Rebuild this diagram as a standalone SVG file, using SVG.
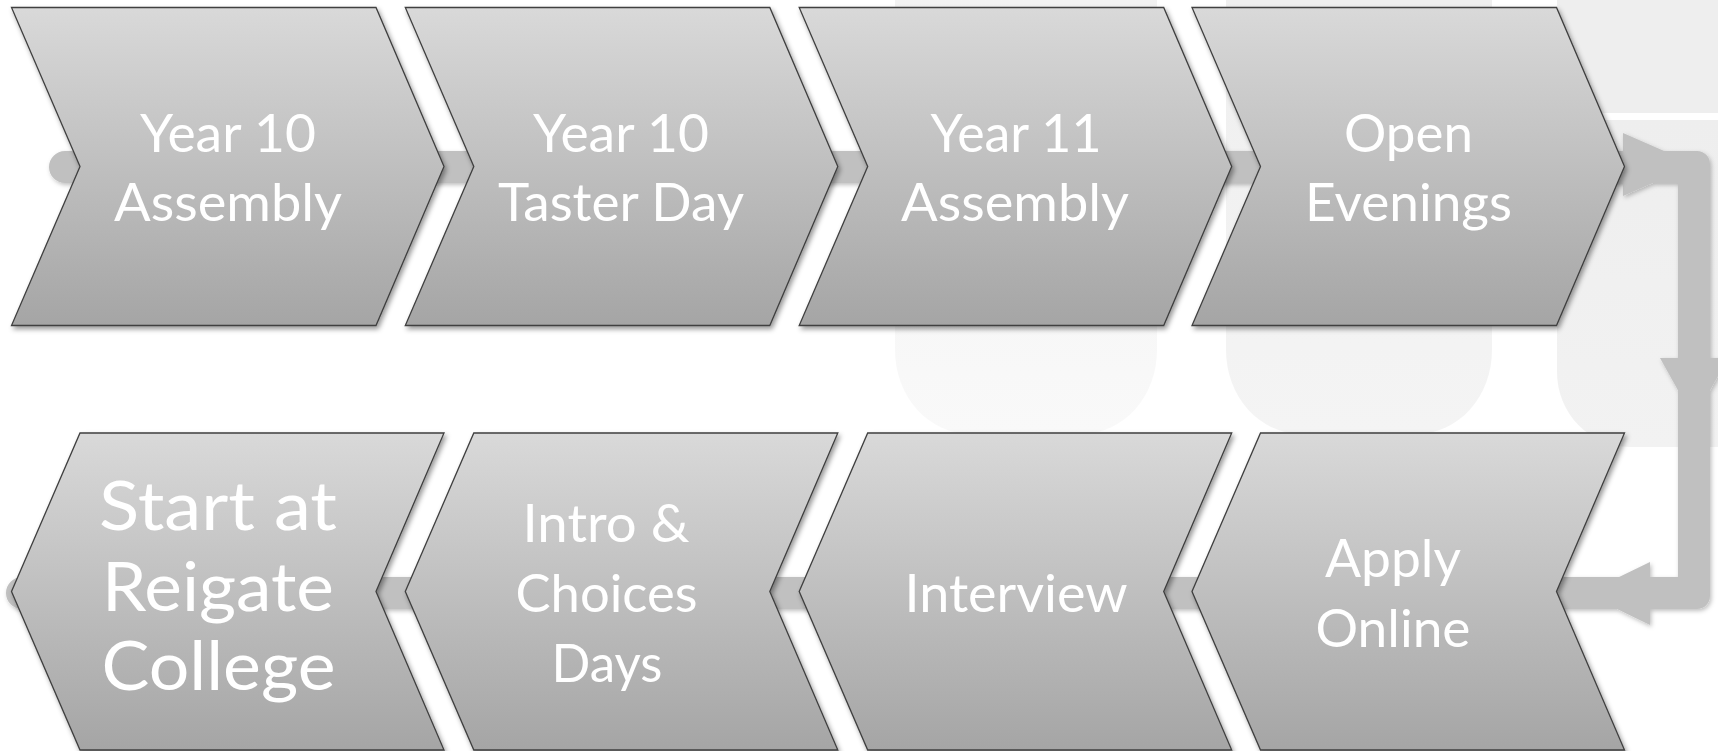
<svg xmlns="http://www.w3.org/2000/svg" width="1718" height="751" viewBox="0 0 1718 751">
<defs>
<linearGradient id="chev" x1="0" y1="0" x2="0" y2="1">
<stop offset="0" stop-color="#d9d9d9"/>
<stop offset="1" stop-color="#a5a5a5"/>
</linearGradient>
<linearGradient id="p1" x1="0" y1="0" x2="0" y2="1">
<stop offset="0" stop-color="#f2f2f2"/>
<stop offset="1" stop-color="#f9f9f9"/>
</linearGradient>
<linearGradient id="p2" x1="0" y1="0" x2="0" y2="1">
<stop offset="0" stop-color="#efefef"/>
<stop offset="1" stop-color="#f4f4f4"/>
</linearGradient>
<linearGradient id="p3" x1="0" y1="0" x2="0" y2="1">
<stop offset="0" stop-color="#eeeeee"/>
<stop offset="1" stop-color="#f2f2f2"/>
</linearGradient>
<filter id="sh" x="-5%" y="-5%" width="112%" height="115%">
<feDropShadow dx="2" dy="3" stdDeviation="2.5" flood-color="#000" flood-opacity="0.4"/>
</filter>
<filter id="sh2" x="-5%" y="-5%" width="112%" height="115%">
<feDropShadow dx="1.5" dy="2" stdDeviation="2" flood-color="#000" flood-opacity="0.25"/>
</filter>
</defs>
<style>
.chev{fill:url(#chev);stroke:#3f3f3f;stroke-width:1.3;stroke-linejoin:miter;filter:url(#sh)}
.t{font-family:Lato,"Liberation Sans",sans-serif;font-size:52px;fill:#ffffff;text-anchor:middle}
.big{font-size:68px}
.conn{fill:#c0c0c0}
</style>
<rect width="1718" height="751" fill="#ffffff"/>
<g id="background">
<path d="M 895 0 H 1157 V 350 A 75 84 0 0 1 1082 434 H 970 A 75 84 0 0 1 895 350 Z" fill="url(#p1)"/>
<path d="M 1226 0 H 1492 V 350 A 75 84 0 0 1 1417 434 H 1301 A 75 84 0 0 1 1226 350 Z" fill="url(#p2)"/>
<rect x="1557" y="0" width="161" height="113" fill="#eeeeee"/>
<path d="M 1557 120 H 1718 V 447 H 1630 A 73 75 0 0 1 1557 372 Z" fill="url(#p3)"/>
</g>
<g id="connectors" filter="url(#sh2)">
<path class="conn" d="M 65 151 H 1697 A 13 13 0 0 1 1710 164 V 596 A 13 13 0 0 1 1697 609 H 22 A 16 16 0 0 1 22 577 H 1678 V 183 H 65 A 16 16 0 0 1 65 151 Z"/>
<polygon class="conn" points="1623,133 1695,164.5 1623,196"/>
<polygon class="conn" points="1660,358 1728,358 1694,419"/>
<polygon class="conn" points="1650,562 1650,625 1585,593.5"/>
</g>
<g id="n1">
<polygon class="chev" points="11.5,7.5 376,7.5 444,166.5 376,325.5 11.5,325.5 80,166.5"/>
<text class="t" x="228" y="152" textLength="176" lengthAdjust="spacingAndGlyphs">Year 10</text>
<text class="t" x="228" y="221" textLength="228" lengthAdjust="spacingAndGlyphs">Assembly</text>
</g>
<g id="n2">
<polygon class="chev" points="405.3,7.5 769.8,7.5 837.8,166.5 769.8,325.5 405.3,325.5 473.8,166.5"/>
<text class="t" x="621" y="152" textLength="176" lengthAdjust="spacingAndGlyphs">Year 10</text>
<text class="t" x="621" y="221" textLength="246" lengthAdjust="spacingAndGlyphs">Taster Day</text>
</g>
<g id="n3">
<polygon class="chev" points="799.2,7.5 1163.7,7.5 1231.7,166.5 1163.7,325.5 799.2,325.5 867.7,166.5"/>
<text class="t" x="1016" y="152" textLength="171" lengthAdjust="spacingAndGlyphs">Year 11</text>
<text class="t" x="1015" y="221" textLength="228" lengthAdjust="spacingAndGlyphs">Assembly</text>
</g>
<g id="n4">
<polygon class="chev" points="1192,7.5 1556.5,7.5 1624.5,166.5 1556.5,325.5 1192,325.5 1260.5,166.5"/>
<text class="t" x="1408.5" y="152" textLength="129" lengthAdjust="spacingAndGlyphs">Open</text>
<text class="t" x="1408.5" y="221" textLength="207" lengthAdjust="spacingAndGlyphs">Evenings</text>
</g>
<g id="n5">
<polygon class="chev" points="1192,591.5 1260.5,433 1624.5,433 1556.5,591.5 1624.5,750 1260.5,750"/>
<text class="t" x="1393" y="577" textLength="136" lengthAdjust="spacingAndGlyphs">Apply</text>
<text class="t" x="1393" y="647" textLength="155" lengthAdjust="spacingAndGlyphs">Online</text>
</g>
<g id="n6">
<polygon class="chev" points="799.2,591.5 867.7,433 1231.7,433 1163.7,591.5 1231.7,750 867.7,750"/>
<text class="t" x="1016" y="612" textLength="223" lengthAdjust="spacingAndGlyphs">Interview</text>
</g>
<g id="n7">
<polygon class="chev" points="405.3,591.5 473.8,433 837.8,433 769.8,591.5 837.8,750 473.8,750"/>
<text class="t" x="606" y="542" textLength="167" lengthAdjust="spacingAndGlyphs">Intro &amp;</text>
<text class="t" x="606.5" y="612" textLength="182" lengthAdjust="spacingAndGlyphs">Choices</text>
<text class="t" x="607" y="682" textLength="111" lengthAdjust="spacingAndGlyphs">Days</text>
</g>
<g id="n8">
<polygon class="chev" points="11.5,591.5 80,433 444,433 376,591.5 444,750 80,750"/>
<text class="t big" x="218" y="530" textLength="238" lengthAdjust="spacingAndGlyphs">Start at</text>
<text class="t big" x="218" y="611" textLength="232" lengthAdjust="spacingAndGlyphs">Reigate</text>
<text class="t big" x="218.5" y="690" textLength="234" lengthAdjust="spacingAndGlyphs">College</text>
</g>
</svg>
